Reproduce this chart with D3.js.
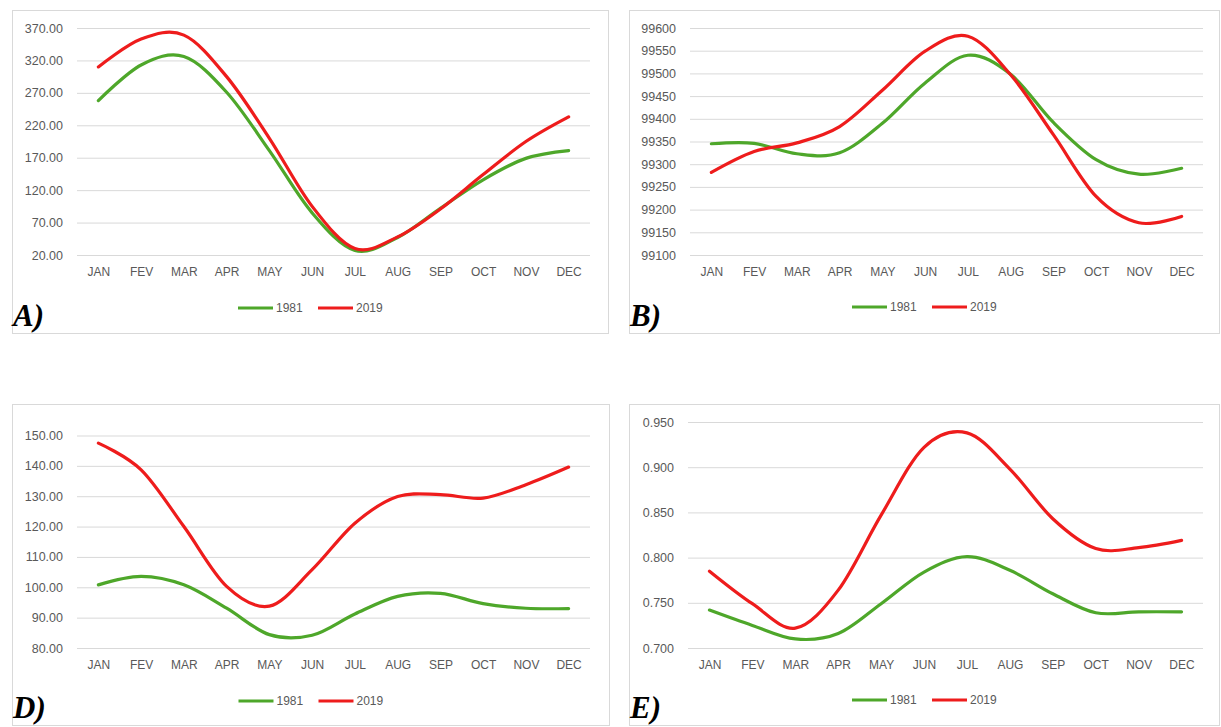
<!DOCTYPE html>
<html>
<head>
<meta charset="utf-8">
<script src="https://cdn.jsdelivr.net/npm/d3@7"></script>
<style>
  body { margin: 0; background: #fff; }
  svg { display: block; }
  .tick text { font-family: "Liberation Sans", Arial, sans-serif; fill: #595959; }
</style>
</head>
<body>
<svg id="chart" width="1221" height="727"></svg>
<script>
var months = ["JAN","FEV","MAR","APR","MAY","JUN","JUL","AUG","SEP","OCT","NOV","DEC"];
var years = ["1981","2019"];

// panel A
var a1981 = [258, 313, 326, 271, 181, 85, 27, 47, 92, 136, 169, 181];
var a2019 = [310, 353, 359, 295, 200, 95, 30, 48, 91, 144, 195, 233];
var aTicks = [20, 70, 120, 170, 220, 270, 320, 370];

// panel B
var b1981 = [99345, 99346, 99323, 99325, 99390, 99479, 99540, 99498, 99392, 99310, 99278, 99291];
var b2019 = [99282, 99328, 99347, 99383, 99463, 99549, 99582, 99497, 99365, 99229, 99171, 99185];
var bTicks = [99100, 99150, 99200, 99250, 99300, 99350, 99400, 99450, 99500, 99550, 99600];

// panel D
var d1981 = [100.8, 103.6, 100.8, 93.1, 84.4, 84.2, 91.2, 97.0, 98.0, 94.6, 93.1, 93.0];
var d2019 = [147.5, 138.7, 120.0, 100.3, 93.8, 105.8, 121.1, 129.9, 130.5, 129.4, 133.8, 139.6];
var dTicks = [80, 90, 100, 110, 120, 130, 140, 150];

// panel E
var e1981 = [0.742, 0.725, 0.710, 0.716, 0.749, 0.784, 0.801, 0.786, 0.760, 0.739, 0.740, 0.740];
var e2019 = [0.785, 0.749, 0.722, 0.764, 0.847, 0.922, 0.938, 0.898, 0.843, 0.810, 0.811, 0.819];
var eTicks = [0.700, 0.750, 0.800, 0.850, 0.900, 0.950];

var colors = {"1981": "#4ea72a", "2019": "#ee1c1c"};
var svg = d3.select("#chart");

function drawPanel(p) {
  var g = svg.append("g");

  // frame
  g.append("rect")
    .attr("x", p.frame[0] + 0.5).attr("y", p.frame[1] + 0.5)
    .attr("width", p.frame[2] - p.frame[0]).attr("height", p.frame[3] - p.frame[1])
    .attr("fill", "#fff").attr("stroke", "#d9d9d9").attr("stroke-width", 1);

  var x = d3.scalePoint().domain(months).range([p.x0, p.x1]).padding(0.5);
  var y = d3.scaleLinear().domain(d3.extent(p.ticks)).range([p.y0, p.y1]);

  // horizontal grid + y labels
  var yAxis = d3.axisLeft(y).tickValues(p.ticks).tickFormat(d3.format(p.fmt))
    .tickSize(-(p.x1 - p.x0)).tickPadding(14);
  var ya = g.append("g").attr("transform", "translate(" + p.x0 + ",0)").call(yAxis);
  ya.select(".domain").remove();
  ya.selectAll(".tick line").attr("stroke", "#d9d9d9");
  ya.selectAll(".tick text").style("font-size", "12.5px");

  // month labels
  var xAxis = d3.axisBottom(x).tickSize(0).tickPadding(12);
  var xa = g.append("g").attr("transform", "translate(0," + p.y0 + ")").call(xAxis);
  xa.select(".domain").remove();
  xa.selectAll(".tick text").style("font-size", "12px");

  var line = d3.line()
    .x(function(d, i) { return x(months[i]); })
    .y(function(d) { return y(d); })
    .curve(d3.curveCardinal.tension(0));

  p.series.forEach(function(s, i) {
    g.append("path")
      .datum(s)
      .attr("fill", "none")
      .attr("stroke", colors[years[i]])
      .attr("stroke-width", 3.2)
      .attr("stroke-linecap", "round")
      .attr("d", line);
  });

  // legend
  var cx = (p.frame[0] + p.frame[2]) / 2;
  var lg = g.append("g").attr("transform", "translate(" + (cx - 72) + "," + p.legendY + ")");
  years.forEach(function(yr, i) {
    var item = lg.append("g").attr("transform", "translate(" + (i * 80) + ",0)");
    item.append("line").attr("x1", 0).attr("x2", 35).attr("y1", 0).attr("y2", 0)
      .attr("stroke", colors[yr]).attr("stroke-width", 3);
    item.append("text").attr("x", 38).attr("y", 0).attr("dy", "0.35em")
      .style("font-family", "Liberation Sans, Arial, sans-serif")
      .style("font-size", "12px").attr("fill", "#595959").text(yr);
  });

  // panel letter
  g.append("text")
    .attr("x", p.frame[0] + 1).attr("y", p.frame[3] - 7)
    .style("font-family", "Liberation Serif, Times New Roman, serif")
    .style("font-weight", "bold").style("font-style", "italic")
    .style("font-size", "31px").attr("fill", "#000").text(p.letter);
}

drawPanel({letter: "A)", frame: [12, 10, 608, 333], x0: 77, x1: 590, y0: 255, y1: 28,
  ticks: aTicks, fmt: ".2f", series: [a1981, a2019], legendY: 308});
drawPanel({letter: "B)", frame: [629, 10, 1219, 333], x0: 690, x1: 1203, y0: 255, y1: 28,
  ticks: bTicks, fmt: "d", series: [b1981, b2019], legendY: 307});
drawPanel({letter: "D)", frame: [12, 404, 609, 725], x0: 77, x1: 590, y0: 648, y1: 435.5,
  ticks: dTicks, fmt: ".2f", series: [d1981, d2019], legendY: 701});
drawPanel({letter: "E)", frame: [629, 404, 1219, 725], x0: 688, x1: 1203, y0: 648, y1: 422,
  ticks: eTicks, fmt: ".3f", series: [e1981, e2019], legendY: 700});
</script>
</body>
</html>
